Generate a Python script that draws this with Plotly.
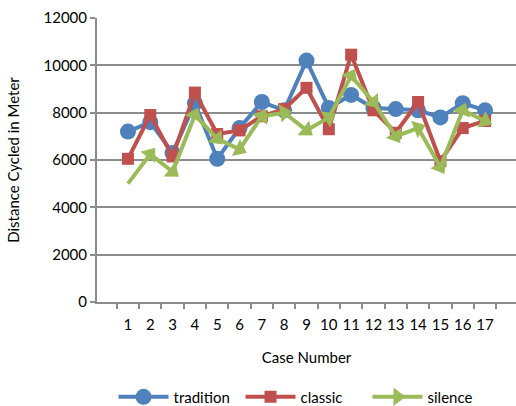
import plotly.graph_objects as go

cases = [str(i) for i in range(1, 18)]
tradition = [7200, 7600, 6300, 8400, 6050, 7350, 8450, 8100, 10200, 8200, 8750, 8200, 8150, 8100, 7800, 8400, 8100]
classic = [6050, 7900, 6150, 8850, 7100, 7250, 7850, 8150, 9050, 7300, 10450, 8100, 7150, 8450, 5950, 7350, 7650]
silence = [5000, 6250, 5500, 7900, 6900, 6450, 7850, 8000, 7250, 7800, 9550, 8450, 7000, 7350, 5700, 8100, 7650]

FONT = "Lato, 'Open Sans', sans-serif"
GRID = "#8c8c8c"

fig = go.Figure()
fig.add_trace(
    go.Scatter(
        x=cases, y=tradition, name="tradition", mode="lines+markers",
        line={"color": "#4f81bd", "width": 4},
        marker={"symbol": "circle", "size": 16, "color": "#4f81bd"},
    )
)
fig.add_trace(
    go.Scatter(
        x=cases, y=classic, name="classic", mode="lines+markers",
        line={"color": "#c0504d", "width": 4},
        marker={"symbol": "square", "size": 12, "color": "#c0504d"},
    )
)
fig.add_trace(
    go.Scatter(
        x=cases, y=silence, name="silence", mode="lines+markers",
        line={"color": "#9bbb59", "width": 4},
        marker={"symbol": "triangle-up", "size": 16, "color": "#9bbb59", "angleref": "previous"},
    )
)

fig.update_layout(
    width=516,
    height=406,
    margin={"l": 97, "r": 0, "t": 18, "b": 104},
    paper_bgcolor="white",
    plot_bgcolor="white",
    font={"family": FONT, "size": 15, "color": "#000000"},
    showlegend=True,
    legend={
        "orientation": "h", "xref": "container", "yref": "container",
        "x": 0.22, "xanchor": "left", "y": 0.022, "yanchor": "middle",
        "font": {"size": 15}, "entrywidth": 62, "itemwidth": 50,
    },
)
fig.update_xaxes(
    type="category",
    title={"text": "Case Number", "font": {"size": 15}, "standoff": 20},
    showgrid=False, tickangle=0, ticklabelstandoff=8,
    showline=True, linecolor=GRID, linewidth=2,
    ticks="outside", tickson="boundaries", ticklen=5, tickcolor=GRID, tickwidth=2,
)
fig.update_yaxes(
    range=[0, 12000], dtick=2000, tickformat="d",
    title={"text": "Distance Cycled in Meter", "font": {"size": 15}, "standoff": 20},
    showgrid=True, gridcolor=GRID, gridwidth=2,
    showline=True, linecolor=GRID, linewidth=2, zeroline=False,
    ticks="outside", ticklen=5, tickcolor=GRID, tickwidth=2,
)

fig.write_html(
    "out.html",
    config={"displayModeBar": False},
    post_script="document.body.style.margin='0';",
)
